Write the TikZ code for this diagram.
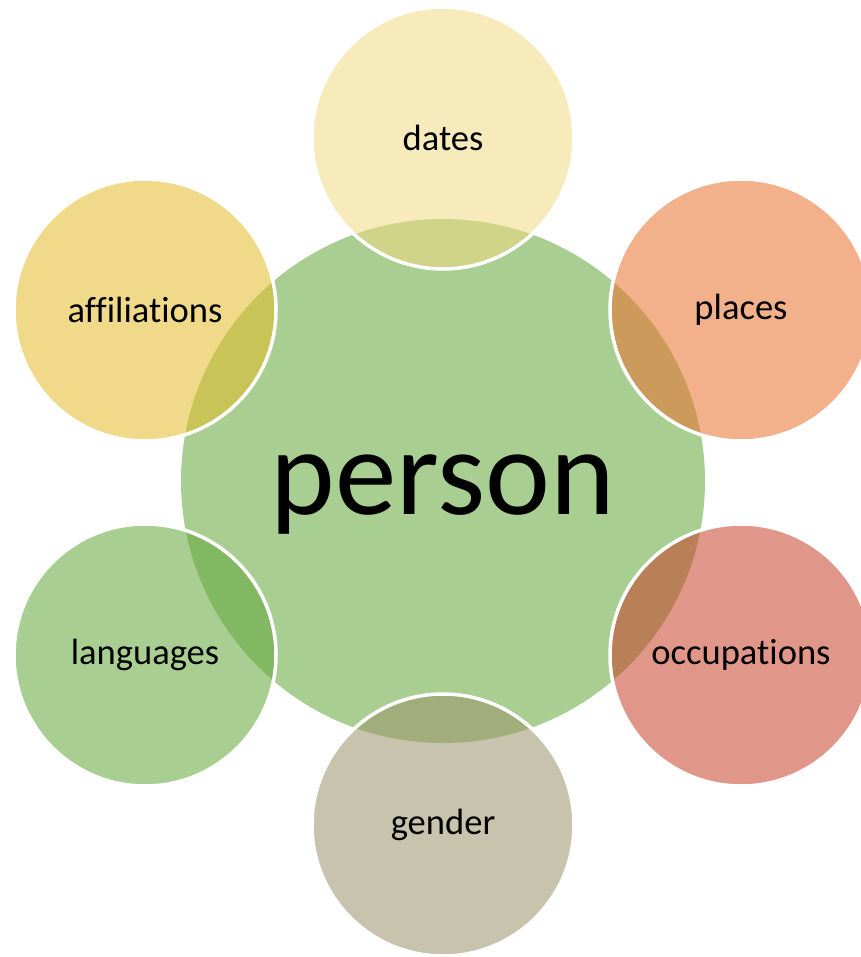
\documentclass[tikz,border=0pt]{standalone}
\usepackage{fontspec}
\setmainfont{Carlito}[Ligatures=NoCommon]
\definecolor{personcol}{RGB}{169,206,146}
\definecolor{datescol}{RGB}{240,217,131}
\definecolor{placescol}{RGB}{233,113,44}
\definecolor{affilcol}{RGB}{228,188,40}
\definecolor{langcol}{RGB}{99,166,57}
\definecolor{occcol}{RGB}{199,64,40}
\definecolor{gendercol}{RGB}{155,146,104}
\begin{document}
\begin{tikzpicture}[x=0.2mm,y=-0.2mm,
    hub/.style={circle,fill=personcol,minimum size=104.8mm,inner sep=0pt,font=\fontsize{70}{74}\selectfont},
    petal/.style={circle,draw=white,line width=2pt,fill opacity=0.55,text opacity=1,minimum size=52.4mm,inner sep=0pt,font=\fontsize{20.8}{24}\selectfont}]
                \useasboundingbox (0,0) rectangle (860,957);
                \node[hub] (person) at (443,481) {\raisebox{-6.6mm}[0pt][0pt]{person}};
                \node[petal,fill=datescol] (dates) at (443,138) {dates};
                \node[petal,fill=placescol] (places) at (741,310) {places};
                \node[petal,fill=affilcol] (affil) at (145,310) {affiliations};
                \node[petal,fill=langcol] (lang) at (145,655) {languages};
                \node[petal,fill=occcol] (occ) at (741,655) {occupations};
                \node[petal,fill=gendercol] (gender) at (443,825) {gender};
            \end{tikzpicture}
\end{document}
